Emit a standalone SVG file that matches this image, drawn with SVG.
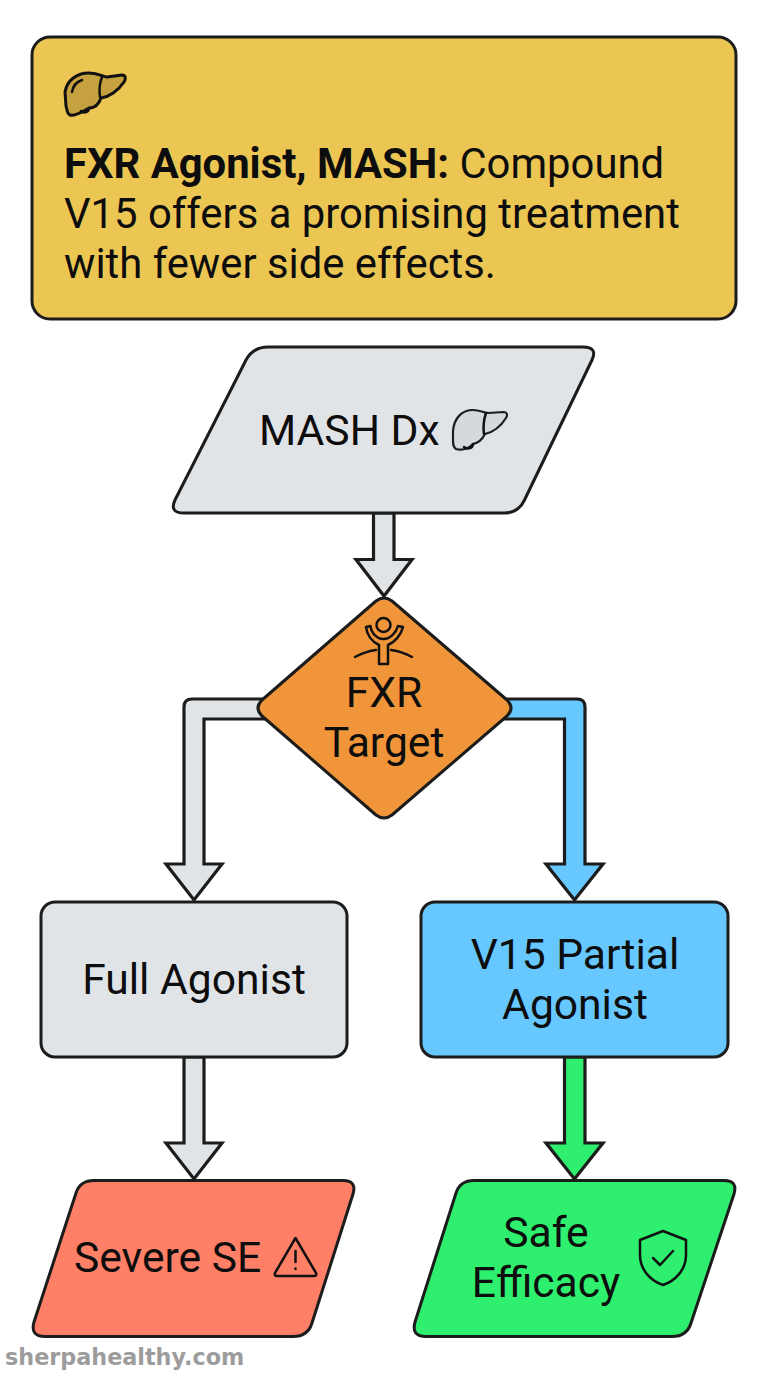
<svg xmlns="http://www.w3.org/2000/svg" width="768" height="1376" viewBox="0 0 768 1376">
<style>
.n{stroke:#1c1c1c;stroke-width:3;stroke-linejoin:round}
.c{stroke:#1c1c1c;stroke-width:3.2;stroke-linejoin:miter}
.t{font-family:Roboto,"Liberation Sans",sans-serif;font-size:42.6px;fill:#0d0d0d}
.h{font-size:41.8px}
.m{text-anchor:middle}
.i{fill:none;stroke:#111;stroke-width:2.5;stroke-linecap:round;stroke-linejoin:round}
</style>
<rect width="768" height="1376" fill="#fff"/>
<g id="connectors">
<path class="c" fill="#E1E4E7" d="M373.500 513V559.500H356L384 596L412 559.500H394V513Z"/>
<path class="c" fill="#E1E4E7" d="M275 699H192Q184 699 184 707V864H166L194 900L222 864H204V719H285Z"/>
<path class="c" fill="#66C8FF" d="M495 699H577Q585 699 585 707V864H603L574.500 900L546 864H564.500V719H485Z"/>
<path class="c" fill="#E1E4E7" d="M184 1057V1143H166L194 1179L222 1143H204V1057Z"/>
<path class="c" fill="#2EF06E" d="M564.500 1057V1143H546L574.500 1179L603 1143H585V1057Z"/>
</g>
<g id="summary">
<rect class="n" x="32" y="37" width="704" height="282" rx="18" fill="#ECC653"/>
<path d="M65 92C67 80 77 73 89 73C99 73 103 77 107 77L122 75C126 75 126 79 124 82C118 91 109 97 101 98C99 104 95 108 89 108C85 110 75 117 70 115C67 114 67 110 66 106Z" fill="#C6A13F" stroke="#111" stroke-width="3" stroke-linejoin="round"/>
<path class="i" d="M100 97C99 90 100 82 102 77M72 92C73 86 76 82 82 80M81 111C84 114 89 112 89 108" stroke-width="2"/>
<text x="64" y="178" class="t h"><tspan font-weight="700">FXR Agonist, MASH:</tspan> Compound</text>
<text x="64" y="228" class="t h">V15 offers a promising treatment</text>
<text x="64" y="278" class="t h">with fewer side effects.</text>
</g>
<g id="mash-dx">
<path class="n" fill="#E1E4E7" d="M268 347H583Q598 347 592 360L524 501Q518 513 504 513H184Q169 513 175 500L246 360Q253 347 268 347Z"/>
<text x="259" y="445" class="t">MASH Dx</text>
<path d="M453 431C454 418 462 410 473 410C480 410 484 413 488 413L504 412C507 412 508 415 506 418C501 426 494 432 485 434C482 440 478 443 473 444C470 448 462 451 456 449C453 447 453 444 453 440Z" fill="#D5D9DE" stroke="#1c1c1c" stroke-width="2.200" stroke-linejoin="round"/>
<path class="i" d="M484 434C483 427 484 419 486 413M464 447C468 450 473 448 473 444" stroke-width="1.800"/>
</g>
<g id="fxr-target">
<path class="n" fill="#F0953A" d="M376 601Q384 595 392 601L507 700Q515 708 507 716L392 815Q384 821 376 815L262 716Q254 708 262 700Z"/>
<circle class="i" cx="383.500" cy="625" r="7"/>
<path class="i" d="M366 627C367 635 372 642 379 645V664H388V645C395 642 401 635 403 627L398 626C396 633 390 639 383.500 639C377 639 371 633 370.500 626Z"/>
<path class="i" d="M355 657C362 653 369 651 376 650M391 650C398 651 405 653 412 657"/>
<text x="384" y="707" class="t m">FXR</text>
<text x="384" y="757" class="t m">Target</text>
</g>
<g id="full-agonist">
<rect class="n" x="41" y="902" width="306" height="155" rx="14" fill="#E1E4E7"/>
<text x="194" y="994" class="t m">Full Agonist</text>
</g>
<g id="v15-partial-agonist">
<rect class="n" x="421" y="902" width="307" height="155" rx="14" fill="#66C8FF"/>
<text x="575" y="969" class="t m">V15 Partial</text>
<text x="575" y="1019" class="t m">Agonist</text>
</g>
<g id="severe-se">
<path class="n" fill="#FF8066" d="M94 1180.500H343Q357 1180.500 353 1194L312 1323Q308 1336.500 293 1336.500H45Q30 1336.500 34 1322L76 1193Q80 1180.500 94 1180.500Z"/>
<text x="74" y="1272" class="t">Severe SE</text>
<path class="i" d="M295.500 1238L316 1273Q317 1276 314 1276H277Q274 1276 275 1273Z" stroke-width="3"/>
<path class="i" d="M295.500 1251V1262M295.500 1268.500V1269" stroke-width="3"/>
</g>
<g id="safe-efficacy">
<path class="n" fill="#2EF06E" d="M474 1180.500H724Q738 1180.500 734 1194L691 1323Q687 1336.500 672 1336.500H426Q411 1336.500 415 1322L456 1193Q460 1180.500 474 1180.500Z"/>
<text x="546" y="1247" class="t m">Safe</text>
<text x="546" y="1297" class="t m">Efficacy</text>
<path class="i" d="M663 1231L686 1240V1255C686 1270 675 1281 663 1285C651 1281 640 1270 640 1255V1240Z" stroke-width="2.300"/>
<path class="i" d="M653 1258L660 1265L673 1251" stroke-width="2.500"/>
</g>
<text id="watermark" x="5" y="1365" font-family="'DejaVu Sans',sans-serif" font-weight="700" font-size="22.300" fill="#9c9c9c">sherpahealthy.com</text>
</svg>
